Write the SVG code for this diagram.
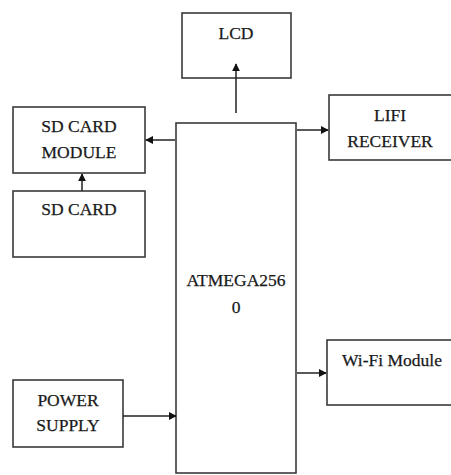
<svg xmlns="http://www.w3.org/2000/svg" width="451" height="475" viewBox="0 0 451 475">
<style>
.box{fill:#fff;stroke:#3a3a3a;stroke-width:1.6}
.t{font-family:"Liberation Serif",serif;font-size:17.5px;fill:#1a1a1a;text-anchor:middle;dominant-baseline:central;stroke:#1a1a1a;stroke-width:0.25}
.c{stroke:#222;stroke-width:1.5;fill:none;marker-end:url(#ah)}
</style>
<defs>
<marker id="ah" viewBox="0 0 10 10" refX="9" refY="5" markerWidth="8" markerHeight="8" markerUnits="userSpaceOnUse" orient="auto">
<path d="M0,0 L10,5 L0,10 z" fill="#111"/>
</marker>
</defs>
<rect width="451" height="475" fill="#fff"/>
<g id="lcd"><rect class="box" x="182" y="13" width="109" height="65"/><text class="t" x="236" y="33">LCD</text></g>
<g id="sdmodule"><rect class="box" x="13" y="107" width="132" height="66"/><text class="t" x="79" y="126">SD CARD</text><text class="t" x="79" y="152">MODULE</text></g>
<g id="sdcard"><rect class="box" x="13" y="191" width="132" height="66"/><text class="t" x="79" y="209">SD CARD</text></g>
<g id="atmega"><rect class="box" x="176" y="123" width="120" height="350"/><text class="t" x="236" y="280">ATMEGA256</text><text class="t" x="236" y="307">0</text></g>
<g id="lifi"><rect class="box" x="329" y="95" width="130" height="65"/><text class="t" x="390" y="115">LIFI</text><text class="t" x="390" y="141">RECEIVER</text></g>
<g id="wifi"><rect class="box" x="327" y="340" width="130" height="65"/><text class="t" x="392" y="360">Wi-Fi Module</text></g>
<g id="power"><rect class="box" x="13" y="380" width="110" height="67"/><text class="t" x="68" y="400">POWER</text><text class="t" x="68" y="425">SUPPLY</text></g>
<g id="connectors">
<line class="c" x1="236" y1="113" x2="236" y2="64"/>
<line class="c" x1="175" y1="140" x2="146" y2="140"/>
<line class="c" x1="297" y1="130" x2="328" y2="130"/>
<line class="c" x1="82" y1="191" x2="82" y2="174"/>
<line class="c" x1="297" y1="373" x2="326" y2="373"/>
<line class="c" x1="123" y1="416" x2="176" y2="416"/>
</g>
</svg>
